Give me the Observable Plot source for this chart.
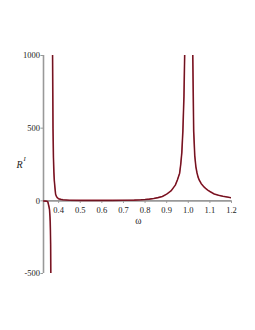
<!DOCTYPE html>
<html>
<head>
<meta charset="utf-8">
<script src="https://cdn.jsdelivr.net/npm/d3@7"></script>
<script src="https://cdn.jsdelivr.net/npm/@observablehq/plot@0.6"></script>
<style>
  html, body { margin: 0; padding: 0; background: white; }
</style>
</head>
<body>
<div id="chart"></div>
<script>
const omega = [0.331, 0.34, 0.345, 0.35, 0.353, 0.356, 0.358, 0.36, 0.361, 0.362, 0.363, 0.364, 0.365, 0.3665,
  0.368, 0.37, 0.372, 0.374, 0.376, 0.378, 0.38, 0.383, 0.386, 0.39, 0.395, 0.40, 0.41, 0.42, 0.45, 0.5, 0.55,
  0.6, 0.65, 0.7, 0.75, 0.78, 0.8, 0.82, 0.84, 0.86, 0.88, 0.9, 0.92, 0.94, 0.95, 0.96, 0.965, 0.97, 0.975,
  0.98, 0.985, 0.99, 1.0, 1.015, 1.02, 1.025, 1.03, 1.035, 1.04, 1.045, 1.05, 1.06, 1.07, 1.08, 1.09, 1.1,
  1.12, 1.14, 1.16, 1.18, 1.2];
const rRed = [-1, -2, -3, -6, -25, -45, -62, -110, -142, -200, -300, -550, -1200, NaN,
  3000, 1500, 1000, 500, 300, 200, 140, 90, 45, 30, 20, 14, 10, 7, 4, 3, 3,
  3, 3, 4, 5, 7, 9, 12, 16, 22, 30, 46, 68, 108, 145, 190, 250, 330, 480,
  720, 1150, 1800, NaN, 2000, 1100, 480, 310, 236, 195, 165, 145, 118, 100, 86, 74, 64,
  47, 38, 31, 26, 21];
const rBlack = [-1, -2, -3, -6, -25, -45, -62, -110, -142, -200, -300, -550, -1200, NaN,
  3000, 1500, 1000, 500, 300, 200, 140, 90, 45, 30, 20, 14, 10, 7, 4, 3, 3,
  3, 3, 4, 5, 7, 9, 12, 16, 22, 30, 46, 68, 108, 145, 190, 250, 330, 480,
  720, 1150, 1800, NaN, 2000, 1100, 480, 310, 236, 195, 165, 145, 118, 100, 86, 74, 64,
  47, 38, 31, 26, 21];
const xTicks = [0.4, 0.5, 0.6, 0.7, 0.8, 0.9, 1.0, 1.1, 1.2];
const yTicks = [-500, 0, 500, 1000];
const xMin = 0.33, xMax = 1.2, yMin = -500, yMax = 1000;

const data = omega.map((w, i) => ({omega: w, red: rRed[i], black: rBlack[i]}));
const axisColor = "#999";

const chart = Plot.plot({
  width: 255,
  height: 330,
  marginLeft: 43,
  marginRight: 24,
  marginTop: 55,
  marginBottom: 57,
  x: {domain: [xMin, xMax], axis: null},
  y: {domain: [yMin, yMax], axis: null},
  style: {fontFamily: "'Liberation Serif', serif", fontSize: "8.5px", background: "white", overflow: "visible"},
  marks: [
    Plot.ruleY([0], {x1: xMin, x2: xMax, stroke: axisColor, strokeWidth: 1.6}),
    Plot.ruleX([xMin], {y1: yMin, y2: yMax, stroke: axisColor, strokeWidth: 1.6}),
    Plot.ruleX(xTicks, {x: d => d, y1: 0, y2: -18, stroke: axisColor, strokeWidth: 1}),
    Plot.text(xTicks, {x: d => d, y: 0, dy: 9, text: d => d.toFixed(1), fill: "#222"}),
    Plot.ruleY(yTicks, {y: d => d, x1: xMin - 0.012, x2: xMin, stroke: axisColor, strokeWidth: 1}),
    Plot.text(yTicks, {y: d => d, x: xMin, dx: -3.5, textAnchor: "end", text: d => String(d), fill: "#222"}),
    Plot.line(data, {x: "omega", y: "red", stroke: "#a3283a", strokeWidth: 1.6, clip: true}),
    Plot.line(data, {x: "omega", y: "black", stroke: "#3a0008", strokeWidth: 0.7, strokeOpacity: 0.8, clip: true}),
    Plot.text(["R"], {frameAnchor: "left", y: 247, dx: -27, text: d => d, fontStyle: "italic", fontSize: 10, fill: "#222"}),
    Plot.text(["I"], {frameAnchor: "left", y: 247, dx: -20, dy: -6, text: d => d, fontStyle: "italic", fontSize: 6.5, fill: "#222"}),
    Plot.text(["ω"], {x: 0.769, y: 0, dy: 20, text: d => d, fontSize: 9.5, fill: "#222"})
  ]
});
document.getElementById("chart").appendChild(chart);
</script>
</body>
</html>
